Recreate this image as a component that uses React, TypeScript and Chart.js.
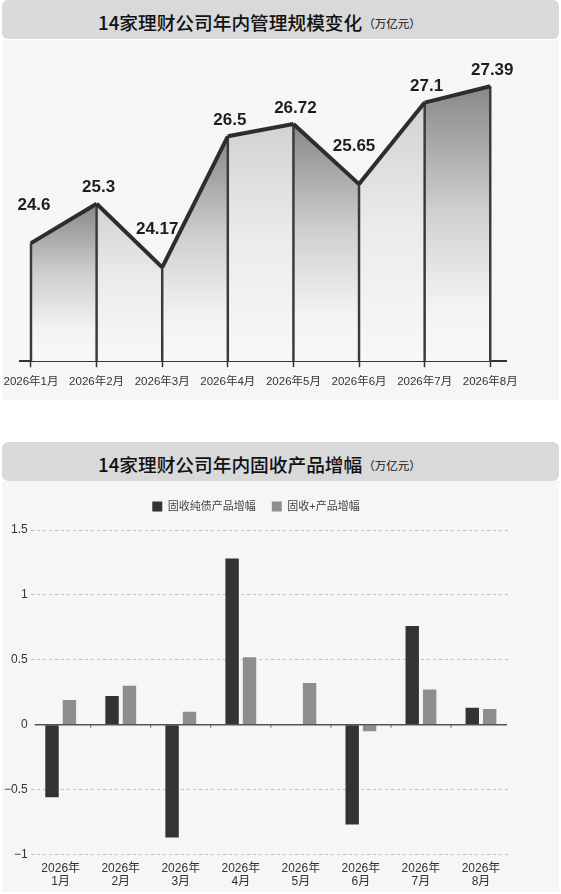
import { useEffect, useRef } from "react";
import Chart from "chart.js/auto";

// top chart: total management scale (万亿元)
const scaleMonths = ["2026年1月", "2026年2月", "2026年3月", "2026年4月", "2026年5月", "2026年6月", "2026年7月", "2026年8月"];
const scaleValues = [24.6, 25.3, 24.17, 26.5, 26.72, 25.65, 27.1, 27.39];

// bottom chart: fixed income product growth (万亿元)
const growthYear = "2026年";
const growthMonths = ["1月", "2月", "3月", "4月", "5月", "6月", "7月", "8月"];
const pureBondGrowth = [-0.56, 0.22, -0.87, 1.28, 0.005, -0.77, 0.76, 0.13];
const fixedPlusGrowth = [0.19, 0.3, 0.1, 0.52, 0.32, -0.05, 0.27, 0.12];

const FONT = "'Liberation Sans', Arial, 'Noto Sans CJK SC', sans-serif";
const TITLE_FONT = "'Noto Sans CJK SC', 'Liberation Sans', sans-serif";

Chart.defaults.font.family = FONT;

function Banner(props: { title: string; top: number }) {
  const { title, top } = props;
  return (
    <div
      style={{
        position: "absolute",
        left: 2,
        top,
        width: 557,
        height: 39,
        background: "#d9d9d9",
        borderRadius: 6,
        display: "flex",
        alignItems: "center",
        paddingLeft: 96,
        paddingTop: 3,
        boxSizing: "border-box",
        fontFamily: TITLE_FONT,
        color: "#111",
      }}
    >
      <span style={{ fontSize: 18.7, fontWeight: 500 }}>{title}</span>
      <span style={{ fontSize: 11.5, marginLeft: 1, marginTop: 4 }}>（万亿元）</span>
    </div>
  );
}

function ScaleChart() {
  const canvasRef = useRef<HTMLCanvasElement | null>(null);

  useEffect(() => {
    if (!canvasRef.current) return;

    // value labels above each point; dips get pushed higher so they clear the line
    const valueLabels = {
      id: "valueLabels",
      afterDatasetsDraw(chart: any) {
        const meta = chart.getDatasetMeta(0);
        const ctx = chart.ctx;
        ctx.save();
        ctx.font = `bold 17px ${FONT}`;
        ctx.fillStyle = "#1e1e1e";
        ctx.textAlign = "center";
        ctx.textBaseline = "middle";
        meta.data.forEach((pt: any, i: number) => {
          const v = scaleValues[i];
          const prev = scaleValues[i - 1];
          const next = scaleValues[i + 1];
          const dip = (prev === undefined || v < prev) && (next === undefined || v < next);
          const dx = dip ? (prev === undefined ? 3 : -5) : 2;
          ctx.fillText(String(v), pt.x + dx, pt.y - (dip ? 38 : 16));
        });
        ctx.restore();
      },
    };

    const points = scaleValues.map((v, i) => ({ x: i, y: v }));

    const chart = new Chart(canvasRef.current, {
      type: "line",
      data: {
        datasets: [
          {
            type: "line",
            data: points,
            order: 0,
            borderColor: "#2d2d2d",
            borderWidth: 4,
            borderJoinStyle: "miter",
            pointRadius: 0,
            tension: 0,
            fill: "start",
            segment: {
              backgroundColor: (c: any) => {
                const ch = c.chart;
                const area = ch.chartArea;
                if (!area) return "#dddddd";
                const top = Math.min(c.p0.y, c.p1.y);
                const g = ch.ctx.createLinearGradient(0, top, 0, area.bottom);
                if (c.p0DataIndex % 2 === 0) {
                  g.addColorStop(0, "#888888");
                  g.addColorStop(0.45, "#cfcfcf");
                  g.addColorStop(0.8, "#f3f3f3");
                  g.addColorStop(1, "#f8f8f8");
                } else {
                  g.addColorStop(0, "#d2d2d2");
                  g.addColorStop(0.5, "#ececec");
                  g.addColorStop(1, "#f8f8f8");
                }
                return g;
              },
            },
          } as any,
          {
            type: "bar",
            data: points,
            order: 1,
            barThickness: 1.8,
            backgroundColor: "#3a3a3a",
          } as any,
        ],
      },
      options: {
        animation: false,
        responsive: false,
        layout: { padding: { left: 22, right: 55, top: 12, bottom: 3 } },
        plugins: {
          legend: { display: false },
          tooltip: { enabled: false },
          filler: { drawTime: "beforeDatasetsDraw" } as any,
        },
        scales: {
          x: {
            type: "linear",
            min: -0.17,
            max: 7.24,
            offset: false,
            afterBuildTicks: (axis: any) => {
              axis.ticks = scaleMonths.map((_, i) => ({ value: i }));
            },
            ticks: {
              callback: (v: any) => scaleMonths[v] ?? "",
              color: "#333",
              font: { size: 11.5 },
              padding: 8,
              maxRotation: 0,
              autoSkip: false,
            },
            grid: {
              offset: false,
              drawOnChartArea: false,
              drawTicks: true,
              tickLength: 6,
              tickColor: "#333",
              tickWidth: 1.5,
            },
            border: { color: "#333", width: 2 },
          },
          y: { display: false, min: 22.5, max: 28 },
        },
      },
      plugins: [valueLabels],
    });

    return () => chart.destroy();
  }, []);

  return <canvas ref={canvasRef} width={566} height={360} style={{ width: 566, height: 360, display: "block" }} />;
}

function GrowthChart() {
  const canvasRef = useRef<HTMLCanvasElement | null>(null);

  useEffect(() => {
    if (!canvasRef.current) return;

    // extra room under the legend without widening the gap between its items
    const legendGap = {
      id: "legendGap",
      beforeInit(chart: any) {
        const legend = chart.legend;
        if (!legend) return;
        const fit = legend.fit;
        legend.fit = function () {
          fit.call(this);
          this.height += 8;
        };
      },
    };

    // solid zero line with little ticks at the category edges
    const zeroLine = {
      id: "zeroLine",
      afterDatasetsDraw(chart: any) {
        const { ctx, chartArea, scales } = chart;
        const y0 = scales.y.getPixelForValue(0);
        ctx.save();
        ctx.strokeStyle = "#555";
        ctx.lineWidth = 1.5;
        ctx.beginPath();
        ctx.moveTo(chartArea.left + 4, y0);
        ctx.lineTo(chartArea.right - 4, y0);
        ctx.stroke();
        ctx.lineWidth = 1;
        for (let i = 0; i < growthMonths.length - 1; i++) {
          const x = (scales.x.getPixelForTick(i) + scales.x.getPixelForTick(i + 1)) / 2;
          ctx.beginPath();
          ctx.moveTo(x, y0);
          ctx.lineTo(x, y0 + 3);
          ctx.stroke();
        }
        ctx.restore();
      },
    };

    const chart = new Chart(canvasRef.current, {
      type: "bar",
      data: {
        labels: growthMonths.map((m) => [growthYear, m]),
        datasets: [
          {
            label: "固收纯债产品增幅",
            data: pureBondGrowth,
            backgroundColor: "#333333",
            categoryPercentage: 0.58,
            barPercentage: 0.77,
          },
          {
            label: "固收+产品增幅",
            data: fixedPlusGrowth,
            backgroundColor: "#8e8e8e",
            categoryPercentage: 0.58,
            barPercentage: 0.77,
          },
        ],
      },
      options: {
        animation: false,
        responsive: false,
        layout: { padding: { left: 1, right: 50, top: 4, bottom: 3 } },
        plugins: {
          legend: {
            labels: {
              boxWidth: 10,
              boxHeight: 10,
              padding: 16,
              color: "#444",
              font: { size: 11 },
            },
          },
          tooltip: { enabled: false },
        },
        scales: {
          x: {
            grid: { display: false, drawTicks: false },
            border: { display: false },
            ticks: {
              color: "#333",
              font: { size: 12, lineHeight: 1.15 },
              padding: 7,
              maxRotation: 0,
              autoSkip: false,
            },
          },
          y: {
            min: -1,
            max: 1.5,
            ticks: {
              stepSize: 0.5,
              callback: (v: any) => String(v).replace("-", "−"),
              padding: 3,
              color: "#333",
              font: { size: 12 },
            },
            grid: {
              color: (c: any) => (c.tick && c.tick.value === 0 ? "rgba(0,0,0,0)" : "#c2c2c2"),
              drawTicks: false,
              lineWidth: 1,
            },
            border: { display: false, dash: [3, 3] },
          },
        },
      },
      plugins: [legendGap, zeroLine],
    });

    return () => chart.destroy();
  }, []);

  return <canvas ref={canvasRef} width={561} height={418} style={{ width: 561, height: 418, display: "block" }} />;
}

export default function App() {
  useEffect(() => {
    document.body.style.margin = "0";
  }, []);

  return (
    <div style={{ position: "relative", width: 561, height: 894, background: "#fff", overflow: "hidden" }}>
      <div style={{ position: "absolute", left: 2, top: 40, width: 557, height: 360, background: "#f6f6f6" }} />
      <div style={{ position: "absolute", left: 2, top: 481, width: 557, height: 411, background: "#f6f6f6" }} />
      <Banner title="14家理财公司年内管理规模变化" top={0} />
      <Banner title="14家理财公司年内固收产品增幅" top={442} />
      <div style={{ position: "absolute", left: -5, top: 40 }}>
        <ScaleChart />
      </div>
      <div style={{ position: "absolute", left: 0, top: 481 }}>
        <GrowthChart />
      </div>
    </div>
  );
}
